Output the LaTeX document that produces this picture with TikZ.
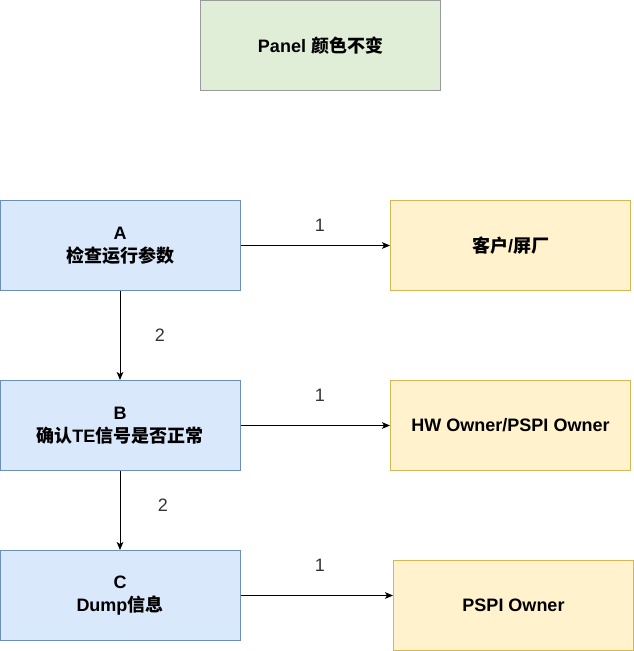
\documentclass[tikz,border=0pt]{standalone}
\usepackage{fontspec}
\setmainfont{Liberation Sans}
\newfontfamily\cjk{Noto Sans CJK SC}
\usetikzlibrary{arrows.meta}
\definecolor{gfill}{HTML}{E0EED8}
\definecolor{gline}{HTML}{9A9A9A}
\definecolor{bfill}{HTML}{DAE8FC}
\definecolor{bline}{HTML}{6C8EBF}
\definecolor{yfill}{HTML}{FFF2CC}
\definecolor{yline}{HTML}{D6B656}
\definecolor{lbl}{HTML}{333333}
\begin{document}
\begin{tikzpicture}[x=0.75pt,y=-0.75pt,
  box/.style={rectangle, minimum width=180pt, minimum height=67.5pt, inner sep=0pt,
    line width=0.75pt, align=center, font=\fontsize{13.5}{17}\selectfont\bfseries},
  gbox/.style={box, draw=gline, fill=gfill},
  bbox/.style={box, draw=bline, fill=bfill},
  ybox/.style={box, draw=yline, fill=yfill},
  arr/.style={line width=0.75pt, -{Stealth[length=6pt,width=5pt,inset=1.5pt]}},
  lab/.style={font=\fontsize{13.5}{16}\selectfont, text=lbl, inner sep=0pt}]
\useasboundingbox (0,0) rectangle (634,651);
\node[gbox] (top) at (320.5,45.5) {Panel {\cjk 颜色不变}};
\node[bbox] (A) at (120,245.5) {A\\{\cjk 检查运行参数}};
\node[bbox] (B) at (120,425.5) {B\\{\cjk 确认}TE{\cjk 信号是否正常}};
\node[bbox] (C) at (120,595.5) {C\\Dump{\cjk 信息}};
\node[ybox] (R1) at (510.5,245.5) {{\cjk 客户}/{\cjk 屏厂}};
\node[ybox] (R2) at (510.5,425.5) {HW Owner/PSPI Owner};
\node[ybox] (R3) at (513.5,605.5) {PSPI Owner};
\draw[arr] (A.east) -- (R1.west);
\draw[arr] (B.east) -- (R2.west);
\draw[arr] (C.east) -- (C.east -| R3.west);
\draw[arr] (A.south) -- (B.north);
\draw[arr] (B.south) -- (C.north);
\node[lab] (l1) at (320,225) {1};
\node[lab] (l2) at (320,395) {1};
\node[lab] (l3) at (320,565) {1};
\node[lab] (l4) at (160,335) {2};
\node[lab] (l5) at (163,505) {2};
\end{tikzpicture}
\end{document}
